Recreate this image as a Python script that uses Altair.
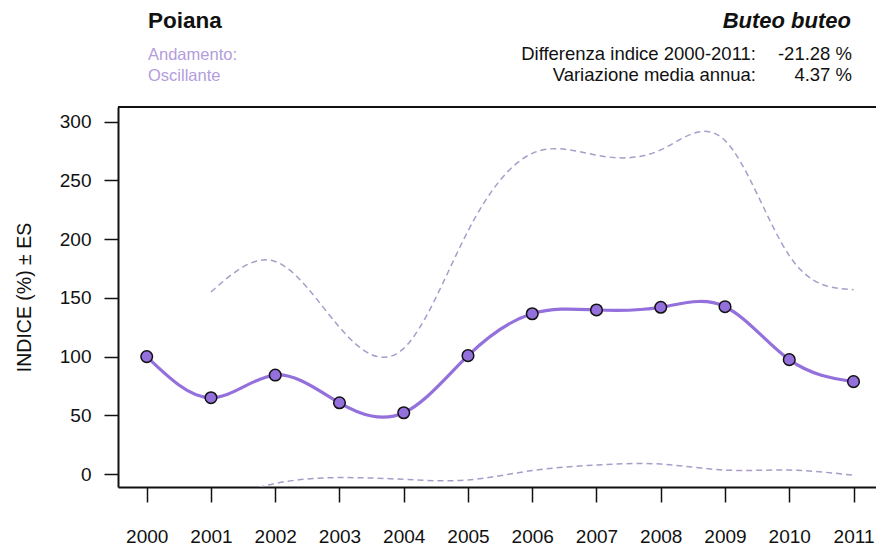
import altair as alt
import pandas as pd

years = [2000, 2001, 2002, 2003, 2004, 2005, 2006, 2007, 2008, 2009, 2010, 2011]
index_vals = [100, 65, 84.3, 60.7, 52.2, 100.8, 136.5, 139.7, 142, 142.5, 97.4, 78.7]
upper_vals = [None, 155, 181, 125, 107, 207, 273, 271.5, 276, 284, 186, 157]
lower_vals = [None, -25, -8, -3, -4.5, -5, 3, 7.7, 8.5, 3.4, 3.4, -1]
x_ticks = years
y_ticks = [0, 50, 100, 150, 200, 250, 300]

title_left = "Poiana"
title_right = "Buteo buteo"
trend_label = "Andamento:"
trend_value = "Oscillante"
diff_label = "Differenza indice 2000-2011:"
diff_value = "-21.28 %"
var_label = "Variazione media annua:"
var_value = "4.37 %"

W, H = 758, 380
FONT = "Liberation Sans"
PURPLE = "#9370DB"
DASH = "#a99cc9"
LIGHT = "#b39ddc"

df = pd.DataFrame({"year": years, "index": index_vals})
band_rows = []
for y, u, l in zip(years, upper_vals, lower_vals):
    if u is not None:
        band_rows.append({"year": y, "value": u, "band": "upper"})
    if l is not None:
        band_rows.append({"year": y, "value": l, "band": "lower"})
bands = pd.DataFrame(band_rows)

xscale = alt.Scale(domain=[1999.553, 2011.35], nice=False, zero=False)
yscale = alt.Scale(domain=[-11, 312.5], nice=False, zero=False)

xaxis = alt.Axis(values=x_ticks, format="d", labelFontSize=19, labelFont=FONT,
                 labelColor="#111", tickSize=15, tickWidth=1.5, tickColor="#111",
                 domainColor="#111", domainWidth=2, labelPadding=25, grid=False,
                 title=None, labelFlush=False)
yaxis = alt.Axis(values=y_ticks, labelFontSize=19, labelFont=FONT, labelColor="#111",
                 tickSize=14, tickWidth=1.5, tickColor="#111", domainColor="#111",
                 domainWidth=2, labelPadding=13, grid=False,
                 title="INDICE (%) ± ES", titleFont=FONT, titleFontSize=19.5,
                 titleFontWeight="normal", titleColor="#111", titlePadding=25)

band_lines = alt.Chart(bands).mark_line(
    interpolate="natural", strokeDash=[6, 4], strokeWidth=1.5, color=DASH, clip=True
).encode(
    x=alt.X("year:Q", scale=xscale, axis=xaxis),
    y=alt.Y("value:Q", scale=yscale, axis=yaxis),
    detail="band:N",
)

main_line = alt.Chart(df).mark_line(
    interpolate="natural", strokeWidth=3.2, color=PURPLE, clip=True
).encode(
    x=alt.X("year:Q", scale=xscale),
    y=alt.Y("index:Q", scale=yscale),
)

points = alt.Chart(df).mark_point(
    filled=True, size=135, fill=PURPLE, stroke="#111", strokeWidth=1.5, opacity=1
).encode(
    x=alt.X("year:Q", scale=xscale),
    y=alt.Y("index:Q", scale=yscale),
)

top_rule = alt.Chart(df).mark_rule(color="#111", strokeWidth=2).encode(
    x=alt.value(0), x2=alt.value(W + 5), y=alt.value(0)
)

def txt(s, x, y, align="left", size=18.5, color="#111", weight="normal",
        style="normal", font=FONT):
    return alt.Chart(df.head(1)).mark_text(
        text=s, align=align, baseline="alphabetic", fontSize=size, font=font,
        color=color, fontWeight=weight, fontStyle=style
    ).encode(x=alt.value(x), y=alt.value(y))

texts = [
    txt(title_left, 30, -79, size=22.5, weight="bold"),
    txt(title_right, 733, -79, align="right", size=22, weight="bold", style="italic"),
    txt(trend_label, 30, -47.5, color=LIGHT, size=16.5),
    txt(trend_value, 30, -26.5, color=LIGHT, size=16.5),
    txt(diff_label, 638, -47.5, align="right"),
    txt(diff_value, 734, -47.5, align="right"),
    txt(var_label, 638, -26.5, align="right"),
    txt(var_value, 734, -26.5, align="right"),
]

chart = alt.layer(band_lines, main_line, points, top_rule, *texts).properties(
    width=W, height=H,
    autosize=alt.AutoSizeParams(type="none"),
    padding={"left": 118, "top": 107, "right": 0, "bottom": 64},
    background="white",
).configure_view(stroke=None)

chart.save("out.html", embed_options={"renderer": "svg", "actions": False})
